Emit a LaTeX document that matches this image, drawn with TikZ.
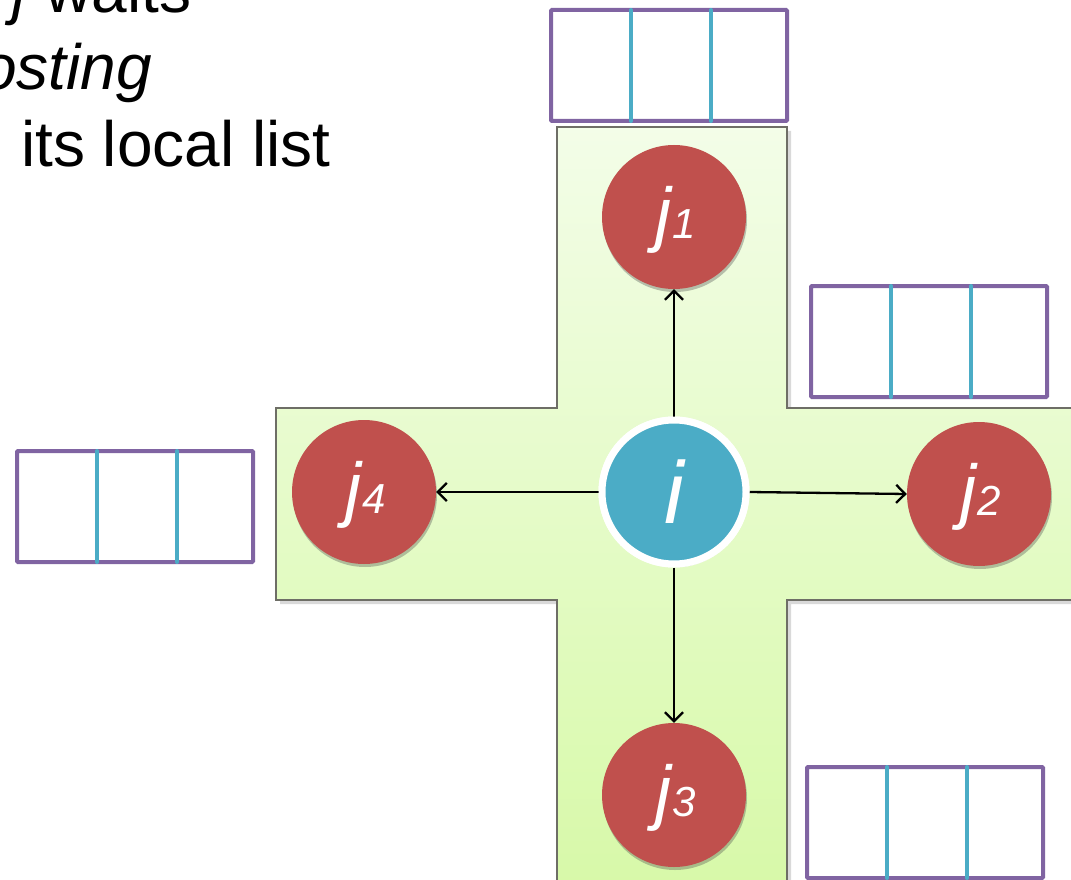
\documentclass[tikz,border=0pt]{standalone}
\usepackage{fontspec}
\setmainfont{Liberation Sans}
\usetikzlibrary{arrows.meta,shadows,fadings}
\definecolor{jred}{HTML}{C0504D}
\definecolor{iblue}{HTML}{4BACC6}
\definecolor{lpurple}{HTML}{8064A2}
\definecolor{crossborder}{HTML}{6E6E66}
\definecolor{crosstop}{HTML}{F3FDE8}
\definecolor{crossbot}{HTML}{D7F9A8}
\tikzset{
  jnode/.style={circle, fill=jred, minimum size=144pt, inner sep=0pt, text=white,
    drop shadow={shadow xshift=1pt, shadow yshift=-3pt, opacity=0.35, fill=black!70}},
  inode/.style={circle, fill=iblue, draw=white, line width=7pt, minimum size=144pt, inner sep=0pt, text=white,
    drop shadow={shadow xshift=1pt, shadow yshift=-3pt, opacity=0.35, fill=black!70}},
  conn/.style={draw=black, line width=2.3pt, -{Straight Barb[length=9pt,width=18pt,line width=2.3pt]}},
  listbox/.style={draw=lpurple, line width=4pt, rounded corners=1pt},
  divider/.style={draw=iblue, line width=4pt, line cap=round},
  jlab/.style={font=\fontsize{72}{76}\selectfont\itshape},
  bigtext/.style={font=\fontsize{64}{70}\selectfont, inner sep=0pt},
}
\newcommand{\listthree}[3]{% name, left-top x, y
  \draw[listbox] (#2,#3) rectangle ++(236,111);
  \draw[divider] (#2+80,#3) -- ++(0,111);
  \draw[divider] (#2+160,#3) -- ++(0,111);
}
\begin{document}
\begin{tikzpicture}[x=1pt,y=-1pt]
\useasboundingbox (0,0) rectangle (1071,880);
% text
\node[bigtext, anchor=base west] (t1) at (12,13) {\textit{j} waits};
\node[bigtext, anchor=base east] (t2) at (152,90) {\textit{posting}};
\node[bigtext, anchor=base west] (t3) at (21,167) {its local list};
% cross shadow
\fill[black, opacity=0.15] (561,131) -- (791,131) -- (791,412) -- (1085,412) -- (1085,604) -- (791,604) -- (791,895) -- (561,895) -- (561,604) -- (280,604) -- (280,412) -- (561,412) -- cycle;
% cross
\path[top color=crosstop, bottom color=crossbot, draw=crossborder, line width=1.5pt]
  (557,127) -- (787,127) -- (787,408) -- (1085,408) -- (1085,600) -- (787,600) -- (787,895) -- (557,895) -- (557,600) -- (276,600) -- (276,408) -- (557,408) -- cycle;
% lists
\listthree{top}{551}{10}
\listthree{right}{811}{286}
\listthree{left}{17}{451}
\listthree{bot}{807}{767}
% nodes
\node[jnode] (j1) at (674,217) {};
\node[jnode] (j2) at (979,494) {};
\node[jnode] (j3) at (674,795) {};
\node[jnode] (j4) at (364,492) {};
\node[inode] (i) at (674,492) {};
\draw[conn] (i.north) -- (j1.south);
\draw[conn] (i.east) -- (j2.west);
\draw[conn] (i.south) -- (j3.north);
\draw[conn] (i.west) -- (j4.east);
\node[inode, drop shadow={opacity=0}] (ii) at (674,492) {};
\node[text=white, font=\fontsize{88}{90}\selectfont\itshape] (il) at (674,492) {i};
\node[text=white, jlab] (l1) at (676,220) {j\kern1pt\fontsize{42}{44}\selectfont1};
\node[text=white, jlab] (l2) at (981,497) {j\kern1pt\fontsize{42}{44}\selectfont2};
\node[text=white, jlab] (l3) at (676,798) {j\kern1pt\fontsize{42}{44}\selectfont3};
\node[text=white, jlab] (l4) at (366,495) {j\kern1pt\fontsize{42}{44}\selectfont4};
\end{tikzpicture}
\end{document}
